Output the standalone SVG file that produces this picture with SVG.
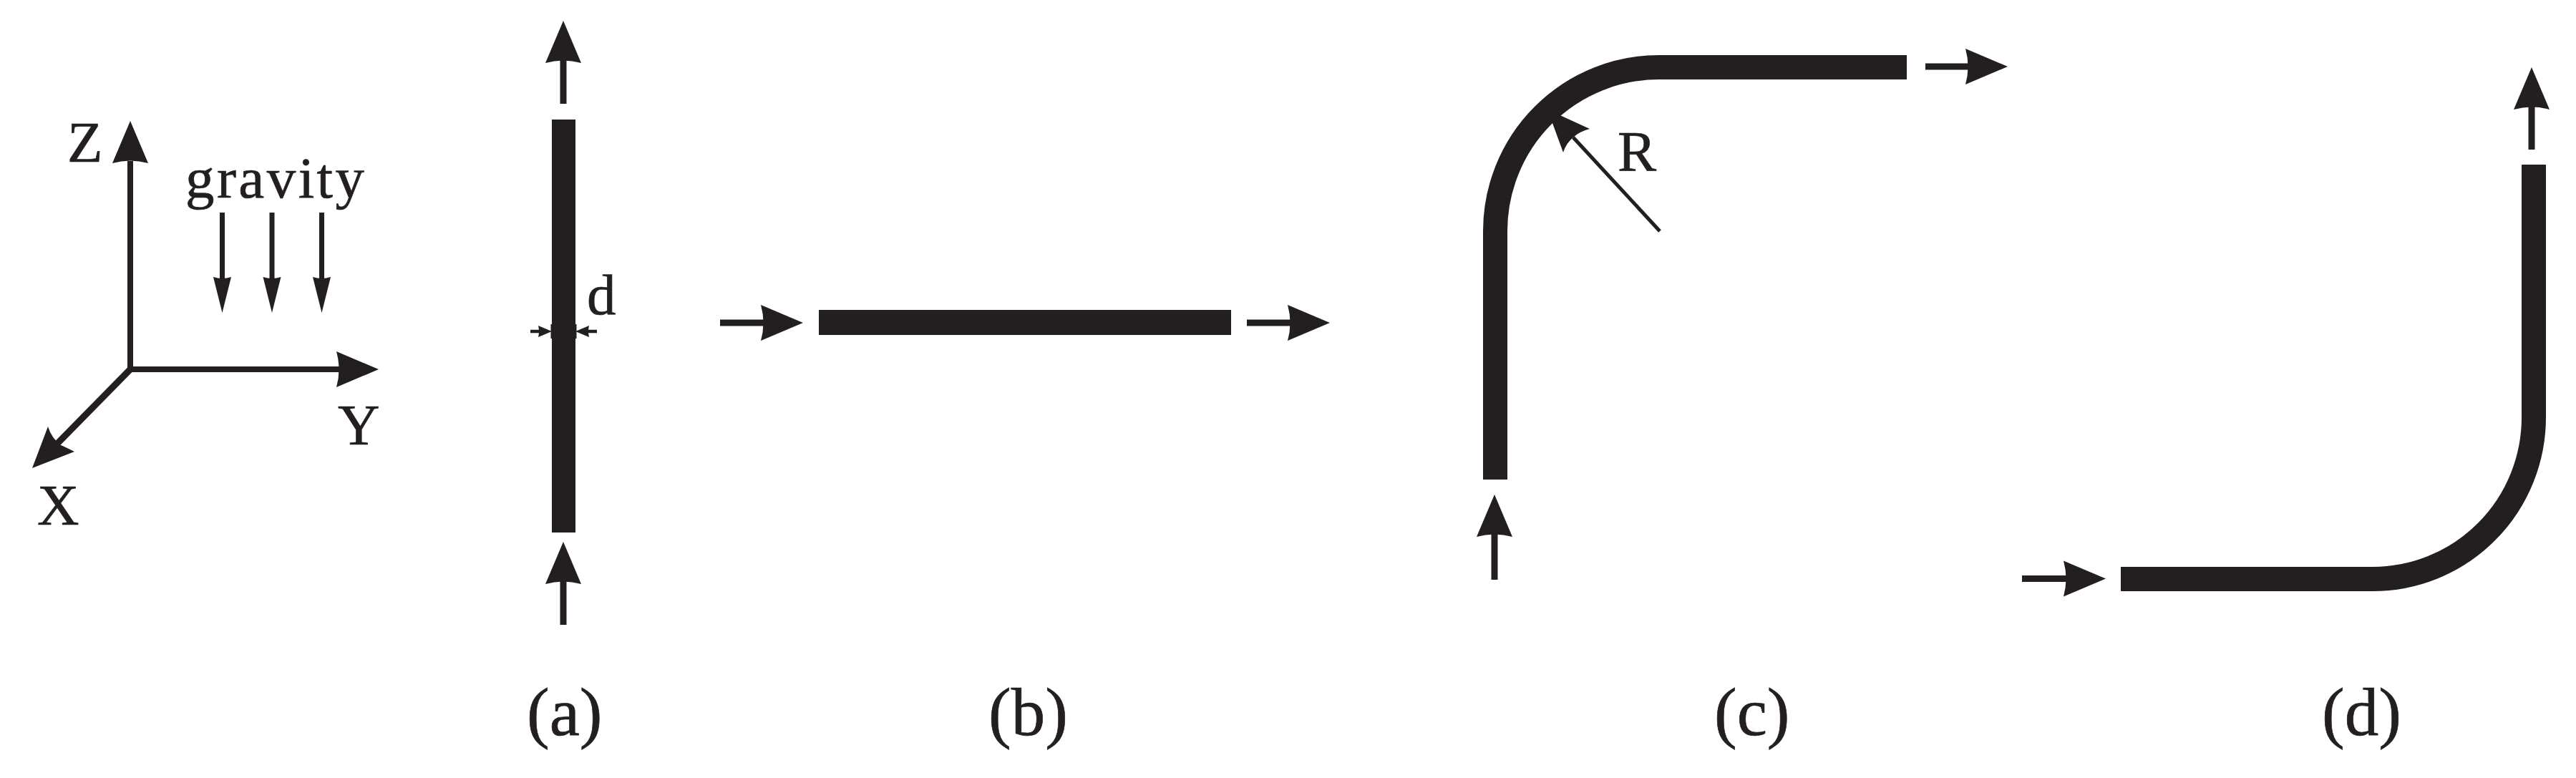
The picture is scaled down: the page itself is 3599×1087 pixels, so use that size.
<svg xmlns="http://www.w3.org/2000/svg" width="3599" height="1087" viewBox="0 0 3599 1087">
<style>
.t{font-family:"Liberation Serif","Times New Roman",serif;font-size:81px;fill:#231f20;stroke:#231f20;stroke-width:.7}
.c{font-size:95px}
.bar{fill:none;stroke:#231f20;stroke-width:34}
.ln{stroke:#231f20;stroke-width:8;fill:none}
.fl{stroke-width:9}
.hd{fill:#231f20}
</style>
<defs>
<path id="ah" d="M59 0L0 -25Q7 0 0 25Z"/>
<path id="ahs" d="M50 0L0 -12.5Q4 0 0 12.5Z"/>
<path id="aht" d="M19 0L0 -8Q2 0 0 8Z"/>
</defs>
<rect width="3599" height="1087" fill="#fff"/>
<g id="connectors">
<g id="axes" class="hd">
<path class="ln" d="M182 516V225M182 516H475"/>
<path class="ln" style="stroke-width:9" d="M182 516L70 630"/>
<use href="#ah" transform="translate(529 516)translate(-59 0)"/>
<use href="#ah" transform="translate(182 169)rotate(-90)translate(-59 0)"/>
<path d="M45 654L67 596Q72 612 85 622Q90 624 104 631Z"/>
</g>
<g id="gravity-arrows" class="hd">
<path class="ln" style="stroke-width:7" d="M310.500 297V392M380 297V392M449.500 297V392"/>
<use href="#ahs" transform="translate(310.500 437)rotate(90)translate(-50 0)"/>
<use href="#ahs" transform="translate(380 437)rotate(90)translate(-50 0)"/>
<use href="#ahs" transform="translate(449.500 437)rotate(90)translate(-50 0)"/>
</g>
<g id="flow-arrows" class="hd">
<path class="ln fl" d="M787 145V80M787 873V810M1006 451H1070M1742 451H1805M2690 93H2752M2088 810V745M2825 808.500H2890M3537 209V145"/>
<use href="#ah" transform="translate(787 29)rotate(-90)translate(-59 0)"/>
<use href="#ah" transform="translate(787 757)rotate(-90)translate(-59 0)"/>
<use href="#ah" transform="translate(1122 451)translate(-59 0)"/>
<use href="#ah" transform="translate(1858 451)translate(-59 0)"/>
<use href="#ah" transform="translate(2805 93)translate(-59 0)"/>
<use href="#ah" transform="translate(2088 691)rotate(-90)translate(-59 0)"/>
<use href="#ah" transform="translate(2942 808.500)translate(-59 0)"/>
<use href="#ah" transform="translate(3537 94)rotate(-90)translate(-59 0)"/>
</g>
<g id="dimension-arrows" class="hd">
<path class="ln" style="stroke-width:4.500" d="M741 463H760M834 463H815"/>
<use href="#aht" transform="translate(771 463)translate(-19 0)"/>
<use href="#aht" transform="translate(804 463)rotate(180)translate(-19 0)"/>
<path class="ln" style="stroke-width:5" d="M2319 323L2198 192"/>
<path d="M2162 153L2221 180Q2206 184 2198 192Q2188 200 2184 213Z"/>
</g>
</g>
<g id="node-axes-labels">
<text class="t" x="94" y="226">Z</text>
<text class="t" x="472" y="621">Y</text>
<text class="t" x="52" y="733">X</text>
<text class="t" x="259" y="276" textLength="250">gravity</text>
</g>
<g id="node-a">
<rect x="771" y="167" width="33" height="577" fill="#231f20"/>
<rect x="769.500" y="453" width="36" height="20" fill="#231f20"/>
<text class="t" x="820" y="439">d</text>
<text class="t c" x="736" y="1027">(a)</text>
</g>
<g id="node-b">
<rect x="1144" y="433" width="576" height="35" fill="#231f20"/>
<text class="t c" x="1381" y="1027">(b)</text>
</g>
<g id="node-c">
<path class="bar" d="M2089 670V323A229 229 0 0 1 2318 94H2664"/>
<text class="t" x="2260" y="239">R</text>
<text class="t c" x="2395" y="1027">(c)</text>
</g>
<g id="node-d">
<path class="bar" d="M2963 809H3315A225 226 0 0 0 3540 583V230"/>
<text class="t c" x="3244" y="1027">(d)</text>
</g>
</svg>
